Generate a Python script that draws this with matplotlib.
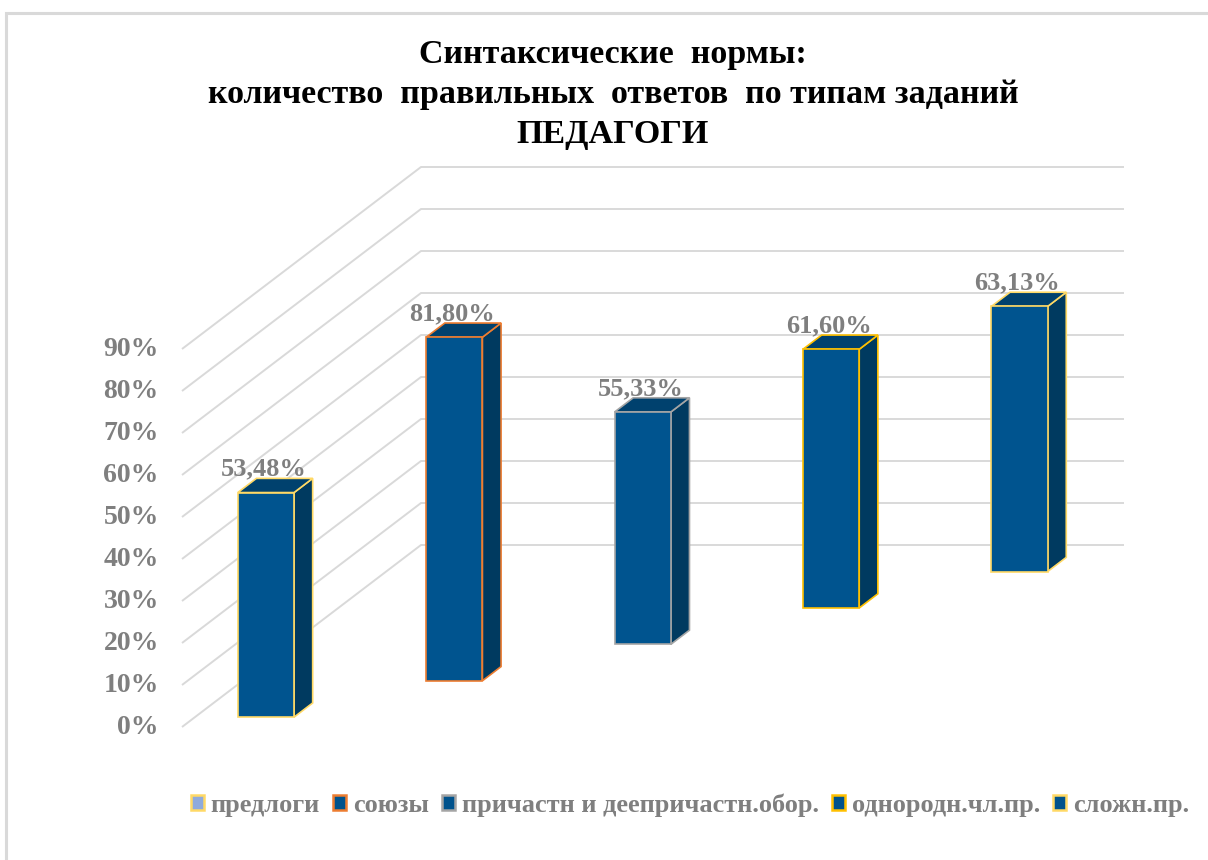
import matplotlib
matplotlib.use('Agg')
import matplotlib.pyplot as plt
from matplotlib.patches import Polygon, Patch, Rectangle

# ---------------- data ----------------
categories = ['предлоги', 'союзы', 'причастн и деепричастн.обор.', 'однородн.чл.пр.', 'сложн.пр.']
values = [53.48, 81.80, 55.33, 61.60, 63.13]
value_labels = ['53,48%', '81,80%', '55,33%', '61,60%', '63,13%']
y_ticks = [0, 10, 20, 30, 40, 50, 60, 70, 80, 90]
y_tick_labels = ['0%', '10%', '20%', '30%', '40%', '50%', '60%', '70%', '80%', '90%']
title_lines = ['Синтаксические  нормы:',
               'количество  правильных  ответов  по типам заданий',
               'ПЕДАГОГИ']

# ---------------- styles ----------------
edge_colors = ['#FFD966', '#ED7D31', '#A5A5A5', '#FFC000', '#FFD966']
legend_fill = ['#8FAADC', '#00528C', '#00528C', '#00528C', '#00528C']
FRONT = '#00548F'
SIDE = '#003A60'
TOP = '#00416E'
GRID = '#D9D9D9'
TXT = '#7F7F7F'
SERIF = ['Liberation Serif', 'DejaVu Serif']

W, H = 1208, 860
fig = plt.figure(figsize=(W / 100, H / 100), dpi=100)
ax = fig.add_axes([0, 0, 1, 1])
ax.axis('off')

# oblique 3-D projection layout (pixel scale of each axis)
ORIGIN = (182, 727)
CAT_PX = 140.6
VAL_PX = 4.2
ROW_PX = (47.8, 36.4)
n = len(values)
DX = ROW_PX[0] / CAT_PX
DY = ROW_PX[1] / VAL_PX
ax.set_xlim(-ORIGIN[0] / CAT_PX, (W - ORIGIN[0]) / CAT_PX)
ax.set_ylim(-(H - ORIGIN[1]) / VAL_PX, ORIGIN[1] / VAL_PX)


def proj(c, d, v):
    return (c + d * DX, v + d * DY)


# walls' gridlines
for t in y_ticks:
    p0 = proj(0, 0, t)
    p1 = proj(0, n, t)
    p2 = proj(n, n, t)
    ax.plot([p0[0], p1[0], p2[0]], [p0[1], p1[1], p2[1]], color=GRID, lw=1.4,
            zorder=1, solid_capstyle='butt')

# y tick labels
for t, lab in zip(y_ticks, y_tick_labels):
    x, y = proj(-0.165, 0, t)
    ax.text(x, y, lab, ha='right', va='center', fontsize=20, fontweight='bold',
            color=TXT, family=SERIF)

# bars (series i sits in category i, depth row i)
X0, X1 = 0.305, 0.705
D0, D1 = 0.27, 0.66
order = list(range(n))[::-1]
for i in order:
    v = values[i]
    c0, c1 = i + X0, i + X1
    d0, d1 = i + D0, i + D1
    ec = edge_colors[i]
    front = [proj(c0, d0, 0), proj(c1, d0, 0), proj(c1, d0, v), proj(c0, d0, v)]
    side = [proj(c1, d0, 0), proj(c1, d1, 0), proj(c1, d1, v), proj(c1, d0, v)]
    top = [proj(c0, d0, v), proj(c1, d0, v), proj(c1, d1, v), proj(c0, d1, v)]
    for pts, col in ((side, SIDE), (top, TOP), (front, FRONT)):
        ax.add_patch(Polygon(pts, closed=True, fc=col, ec=ec, lw=1.2, zorder=3 + (n - i)))
    lx = proj((c0 + c1) / 2 - 0.015, d0, v)[0]
    ly = proj(c0, d1, v)[1]
    ax.text(lx, ly + 0.7, value_labels[i], ha='center', va='baseline', fontsize=19,
            fontweight='bold', color=TXT, family=SERIF, zorder=20)

# title
baselines = [63, 103, 143]
for line, yb in zip(title_lines, baselines):
    fig.text(613 / W, 1 - yb / H, line, ha='center', va='baseline', fontsize=24.5,
             fontweight='bold', color='black', family=SERIF)

# legend
handles = [Patch(facecolor=legend_fill[i], edgecolor=edge_colors[i], linewidth=1.8,
                 label=categories[i]) for i in range(n)]
leg = fig.legend(handles=handles, loc='center', bbox_to_anchor=(690 / W, 1 - 805 / H),
                 ncol=n, frameon=False, handlelength=0.5, handleheight=0.5,
                 handletextpad=0.25, columnspacing=0.5,
                 prop={'family': SERIF, 'weight': 'bold', 'size': 19})
for t in leg.get_texts():
    t.set_color(TXT)

# chart border
fig.patches.append(Rectangle((6 / W, -0.1), 1.2, 1 - 13 / H + 0.1, transform=fig.transFigure,
                             fill=False, ec='#D9D9D9', lw=2.2))

fig.savefig('out.png', dpi=100, facecolor='white')
